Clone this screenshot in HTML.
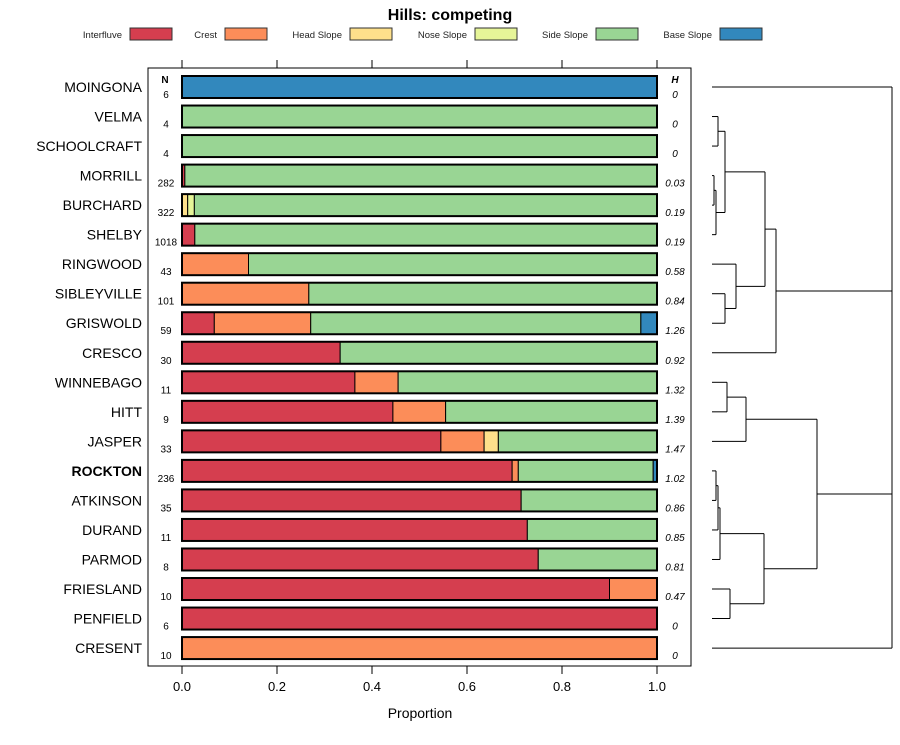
<!DOCTYPE html>
<html><head><meta charset="utf-8"><style>
body{margin:0;background:#fff;}
svg{font-family:"Liberation Sans",sans-serif;}
</style></head><body>
<svg id="c" width="900" height="740" xmlns="http://www.w3.org/2000/svg">
<text x="450" y="20" text-anchor="middle" font-size="16" font-weight="bold">Hills: competing</text>
<g id="legend"></g>
<rect x="148" y="68" width="543" height="598" fill="none" stroke="#000" stroke-width="1"/>
<g id="bars"></g>
<g id="axis"></g>
<text x="420" y="718" text-anchor="middle" font-size="14">Proportion</text>
<text x="165" y="83" text-anchor="middle" font-size="10" font-weight="bold">N</text>
<text x="675" y="83" text-anchor="middle" font-size="10" font-weight="bold" font-style="italic">H</text>
<g id="dendro" stroke="#000" stroke-width="1" fill="none"></g>
</svg>
<script>
const categories=["Interfluve","Crest","Head Slope","Nose Slope","Side Slope","Base Slope"];
const colors=["#d53e4f","#fc8d59","#fee08b","#e6f598","#99d594","#3288bd"];
const series=["MOINGONA","VELMA","SCHOOLCRAFT","MORRILL","BURCHARD","SHELBY","RINGWOOD","SIBLEYVILLE","GRISWOLD","CRESCO","WINNEBAGO","HITT","JASPER","ROCKTON","ATKINSON","DURAND","PARMOD","FRIESLAND","PENFIELD","CRESENT"];
const nVals=[6,4,4,282,322,1018,43,101,59,30,11,9,33,236,35,11,8,10,6,10];
const hVals=["0","0","0","0.03","0.19","0.19","0.58","0.84","1.26","0.92","1.32","1.39","1.47","1.02","0.86","0.85","0.81","0.47","0","0"];
const interfluve=[0,0,0,0.006,0,0.027,0,0,0.068,0.333,0.364,0.444,0.545,0.695,0.714,0.727,0.75,0.9,1,0];
const crest=[0,0,0,0,0,0,0.14,0.267,0.203,0,0.091,0.111,0.091,0.013,0,0,0,0.1,0,1];
const headSlope=[0,0,0,0,0.012,0,0,0,0,0,0,0,0.03,0,0,0,0,0,0,0];
const noseSlope=[0,0,0,0,0.014,0,0,0,0,0,0,0,0,0,0,0,0,0,0,0];
const sideSlope=[0,1,1,0.994,0.974,0.973,0.86,0.733,0.695,0.667,0.545,0.445,0.334,0.284,0.286,0.273,0.25,0,0,0];
const baseSlope=[1,0,0,0,0,0,0,0,0.034,0,0,0,0,0.008,0,0,0,0,0,0];
const ticks=[0,0.2,0.4,0.6,0.8,1.0];
const tickLabels=["0.0","0.2","0.4","0.6","0.8","1.0"];
const NS="http://www.w3.org/2000/svg";
const x=v=>182+v*475;
const y=i=>87+i*29.53;
function mk(t,a,p){const e=document.createElementNS(NS,t);for(const k in a)e.setAttribute(k,a[k]);p.appendChild(e);return e;}
const lg=document.getElementById('legend');
const lx=[[122,130],[217,225],[342,350],[467,475],[588,596],[712,720]];
categories.forEach((c,i)=>{
 const t=mk('text',{x:lx[i][0],y:38,'text-anchor':'end','font-size':9.5,fill:'#222'},lg);t.textContent=c;
 
 
 const r=mk('rect',{x:lx[i][1],y:28,width:42,height:12,fill:colors[i],stroke:'#333'},lg);
 
 
});
const all=[interfluve,crest,headSlope,noseSlope,sideSlope,baseSlope];
const bg=document.getElementById('bars');
series.forEach((s,i)=>{
 let acc=0;const cy=y(i);
 all.forEach((arr,k)=>{const v=arr[i];if(v<=0)return;
  const r=mk('rect',{x:x(acc),y:cy-11,width:x(acc+v)-x(acc),height:22,fill:colors[k],stroke:'#000','stroke-width':1},bg);
  
  
  acc+=v;});
 const o=mk('rect',{x:x(0),y:cy-11,width:x(1)-x(0),height:22,fill:'none',stroke:'#000','stroke-width':2},bg);
 
 
 const l=mk('text',{x:142,y:cy+5,'text-anchor':'end','font-size':14,'font-weight':s==='ROCKTON'?'bold':'normal'},bg);l.textContent=s;
 
 
 const n=mk('text',{x:166,y:cy+11,'text-anchor':'middle','font-size':10},bg);n.textContent=nVals[i];
 
 
 const h=mk('text',{x:675,y:cy+11,'text-anchor':'middle','font-size':10,'font-style':'italic'},bg);h.textContent=hVals[i];
 
 
});
const ax=document.getElementById('axis');
ticks.forEach((t,i)=>{
 mk('line',{x1:x(t),x2:x(t),y1:60,y2:68,stroke:'#000'},ax);
 mk('line',{x1:x(t),x2:x(t),y1:666,y2:674,stroke:'#000'},ax);
 const tl=mk('text',{x:x(t),y:691,'text-anchor':'middle','font-size':13},ax);tl.textContent=tickLabels[i];
 
 
});
const dg=document.getElementById('dendro');
const L=(a,b,c,d)=>mk('line',{x1:a,y1:b,x2:c,y2:d},dg);
const Y=y;
function U(xm,y1,x1,y2,x2){L(x1,y1,xm,y1);L(x2,y2,xm,y2);L(xm,y1,xm,y2);return (y1+y2)/2;}
const v1=U(718,Y(1),712,Y(2),712);
const a=U(714,Y(3),712,Y(4),712);const a2=U(716,a,714,Y(5),712);
const g1=U(725,v1,718,a2,716);
const r1=U(725,Y(7),712,Y(8),712);const r2=U(736,Y(6),712,r1,725);
const g2=U(765,g1,725,r2,736);
const g3=U(776,g2,765,Y(9),712);
const w1=U(727,Y(10),712,Y(11),712);const w2=U(746,w1,727,Y(12),712);
const k1=U(716,Y(13),712,Y(14),712);const k2=U(718,k1,716,Y(15),712);const k3=U(720,k2,718,Y(16),712);
const f1=U(730,Y(17),712,Y(18),712);const k4=U(764,k3,720,f1,730);
const b1=U(817,w2,746,k4,764);
L(712,Y(0),892,Y(0));L(712,Y(19),892,Y(19));L(776,g3,892,g3);L(817,b1,892,b1);L(892,Y(0),892,Y(19));
</script>
</body></html>
